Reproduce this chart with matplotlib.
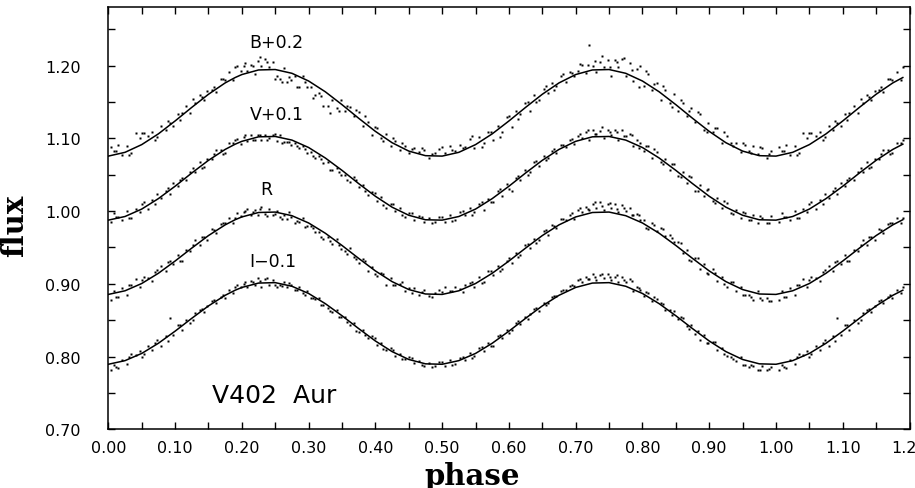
import matplotlib
matplotlib.use("Agg")
import matplotlib.pyplot as plt
import numpy as np
from matplotlib.ticker import MultipleLocator

# orbital phase of each observation (shared by all four filters), first run
phase_1 = [
    0.004, 0.009, 0.015, 0.021, 0.028, 0.034, 0.041, 0.047,
    0.053, 0.060, 0.066, 0.073, 0.079, 0.086, 0.092, 0.097,
    0.104, 0.110, 0.117, 0.123, 0.130, 0.137, 0.143, 0.148,
    0.155, 0.161, 0.168, 0.174, 0.181, 0.187, 0.193, 0.198,
    0.203, 0.208, 0.213, 0.219, 0.224, 0.229, 0.235, 0.240, 0.246,
    0.252, 0.257, 0.263, 0.268, 0.274, 0.280, 0.286, 0.292, 0.297,
    0.303, 0.309, 0.316, 0.322, 0.329, 0.335, 0.342, 0.348,
    0.355, 0.362, 0.368, 0.375, 0.382, 0.389, 0.395,
    0.402, 0.409, 0.416, 0.423, 0.430, 0.437, 0.444,
    0.451, 0.458, 0.466, 0.473, 0.481, 0.489, 0.496,
    0.504, 0.512, 0.519, 0.527, 0.534, 0.542, 0.548,
    0.555, 0.562, 0.569, 0.576, 0.583, 0.590, 0.597,
    0.604, 0.611, 0.617, 0.624, 0.631, 0.638, 0.645,
    0.652, 0.658, 0.665, 0.671, 0.678, 0.685, 0.692, 0.698,
    0.704, 0.709, 0.715, 0.720, 0.726, 0.731, 0.737, 0.742, 0.748,
    0.753, 0.759, 0.764, 0.770, 0.775, 0.781, 0.786, 0.792, 0.797,
    0.803, 0.809, 0.815, 0.822, 0.828, 0.834, 0.841, 0.847,
    0.853, 0.860, 0.866, 0.873, 0.879, 0.886, 0.892, 0.898,
    0.905, 0.912, 0.919, 0.926, 0.933, 0.940, 0.947,
    0.953, 0.960, 0.966, 0.973, 0.979, 0.986, 0.993,
]

# shifted fluxes: B+0.2, V+0.1, R, I-0.1
b_flux_1 = [
    1.088, 1.082, 1.091, 1.077, 1.090, 1.080, 1.107, 1.100,
    1.107, 1.103, 1.109, 1.102, 1.117, 1.111, 1.121, 1.117,
    1.134, 1.135, 1.144, 1.135, 1.148, 1.160, 1.152, 1.165,
    1.166, 1.163, 1.182, 1.180, 1.191, 1.180, 1.199, 1.193,
    1.199, 1.193, 1.201, 1.189, 1.206, 1.200, 1.209, 1.198, 1.205,
    1.186, 1.181, 1.197, 1.178, 1.180, 1.185, 1.171, 1.186, 1.170,
    1.171, 1.159, 1.162, 1.144, 1.144, 1.153, 1.142, 1.153,
    1.137, 1.143, 1.131, 1.136, 1.117, 1.122, 1.105,
    1.114, 1.100, 1.106, 1.089, 1.096, 1.084, 1.089,
    1.080, 1.087, 1.081, 1.084, 1.073, 1.080, 1.085,
    1.080, 1.089, 1.082, 1.091, 1.088, 1.099, 1.086,
    1.102, 1.093, 1.108, 1.097, 1.117, 1.109, 1.129,
    1.115, 1.137, 1.134, 1.148, 1.137, 1.160, 1.153,
    1.168, 1.162, 1.176, 1.172, 1.186, 1.178, 1.191, 1.185,
    1.193, 1.201, 1.190, 1.228, 1.200, 1.191, 1.205, 1.198, 1.208,
    1.186, 1.208, 1.198, 1.209, 1.185, 1.204, 1.179, 1.195, 1.200,
    1.172, 1.188, 1.167, 1.176, 1.152, 1.166, 1.149, 1.161,
    1.138, 1.149, 1.131, 1.142, 1.122, 1.133, 1.111, 1.121,
    1.109, 1.114, 1.094, 1.103, 1.094, 1.094, 1.081,
    1.091, 1.083, 1.090, 1.078, 1.086, 1.073, 1.083,
]
v_flux_1 = [
    0.985, 0.997, 0.992, 0.987, 1.000, 0.990, 1.003, 0.998,
    1.012, 1.003, 1.015, 1.023, 1.018, 1.028, 1.024, 1.038,
    1.034, 1.046, 1.043, 1.053, 1.053, 1.067, 1.060, 1.072,
    1.071, 1.084, 1.084, 1.080, 1.093, 1.093, 1.099, 1.092,
    1.102, 1.096, 1.104, 1.097, 1.105, 1.097, 1.105, 1.100, 1.104,
    1.096, 1.104, 1.095, 1.095, 1.091, 1.093, 1.086, 1.089, 1.080,
    1.081, 1.073, 1.075, 1.066, 1.067, 1.056, 1.059, 1.049,
    1.050, 1.040, 1.047, 1.033, 1.036, 1.022, 1.026,
    1.014, 1.019, 1.004, 1.009, 1.000, 1.004, 0.992,
    0.997, 0.988, 0.993, 0.985, 0.991, 0.985, 0.992,
    0.985, 0.995, 0.987, 0.999, 0.994, 1.004, 0.998,
    1.010, 1.001, 1.016, 1.013, 1.028, 1.021, 1.037,
    1.027, 1.045, 1.042, 1.056, 1.054, 1.068, 1.062,
    1.076, 1.073, 1.083, 1.080, 1.091, 1.088, 1.097, 1.092,
    1.103, 1.101, 1.108, 1.098, 1.112, 1.106, 1.110, 1.101, 1.112,
    1.104, 1.111, 1.097, 1.111, 1.103, 1.106, 1.090, 1.098, 1.093,
    1.083, 1.090, 1.073, 1.081, 1.067, 1.072, 1.057, 1.064,
    1.048, 1.054, 1.038, 1.047, 1.027, 1.036, 1.021, 1.030,
    1.014, 1.018, 1.004, 1.011, 0.997, 1.001, 0.990,
    0.997, 0.988, 0.995, 0.984, 0.991, 0.984, 0.993,
]
r_flux_1 = [
    0.878, 0.890, 0.882, 0.894, 0.884, 0.898, 0.906, 0.895,
    0.909, 0.908, 0.904, 0.919, 0.925, 0.918, 0.931, 0.927,
    0.940, 0.932, 0.947, 0.945, 0.960, 0.954, 0.965, 0.960,
    0.976, 0.970, 0.982, 0.983, 0.990, 0.984, 0.997, 0.993,
    0.999, 1.003, 0.994, 1.002, 0.994, 1.006, 0.996, 1.003, 0.994,
    1.000, 0.992, 0.995, 0.989, 0.992, 0.984, 0.985, 0.991, 0.979,
    0.979, 0.971, 0.971, 0.961, 0.965, 0.955, 0.961, 0.948,
    0.945, 0.949, 0.937, 0.929, 0.934, 0.918, 0.923,
    0.911, 0.915, 0.898, 0.908, 0.898, 0.900, 0.890,
    0.894, 0.894, 0.885, 0.891, 0.883, 0.888, 0.891,
    0.895, 0.890, 0.895, 0.893, 0.899, 0.901, 0.896,
    0.909, 0.902, 0.918, 0.912, 0.925, 0.920, 0.932,
    0.928, 0.943, 0.940, 0.953, 0.949, 0.962, 0.960,
    0.973, 0.967, 0.981, 0.977, 0.989, 0.988, 0.995, 0.989,
    1.001, 0.998, 1.006, 1.001, 1.010, 1.004, 1.013, 1.002, 1.009,
    1.004, 1.010, 0.999, 1.008, 1.000, 1.004, 0.994, 0.996, 0.988,
    0.988, 0.976, 0.983, 0.973, 0.977, 0.966, 0.967, 0.958,
    0.958, 0.943, 0.947, 0.932, 0.936, 0.921, 0.927, 0.913,
    0.920, 0.904, 0.909, 0.895, 0.903, 0.890, 0.895,
    0.884, 0.885, 0.878, 0.890, 0.878, 0.881, 0.876,
]
i_flux_1 = [
    0.782, 0.788, 0.784, 0.795, 0.790, 0.803, 0.802, 0.807,
    0.803, 0.815, 0.809, 0.823, 0.815, 0.828, 0.853, 0.829,
    0.843, 0.837, 0.850, 0.846, 0.860, 0.864, 0.861, 0.870,
    0.876, 0.873, 0.882, 0.880, 0.892, 0.887, 0.898, 0.895,
    0.900, 0.895, 0.904, 0.898, 0.908, 0.896, 0.907, 0.898, 0.905,
    0.895, 0.898, 0.903, 0.895, 0.899, 0.891, 0.896, 0.887, 0.890,
    0.881, 0.879, 0.880, 0.871, 0.867, 0.861, 0.864, 0.854,
    0.854, 0.844, 0.846, 0.834, 0.836, 0.825, 0.828,
    0.816, 0.818, 0.809, 0.812, 0.801, 0.803, 0.796,
    0.799, 0.791, 0.794, 0.787, 0.791, 0.787, 0.793,
    0.787, 0.795, 0.790, 0.798, 0.795, 0.805, 0.801,
    0.812, 0.808, 0.819, 0.815, 0.828, 0.825, 0.837,
    0.836, 0.846, 0.845, 0.855, 0.859, 0.866, 0.863,
    0.874, 0.873, 0.882, 0.883, 0.890, 0.891, 0.897, 0.897,
    0.905, 0.903, 0.909, 0.906, 0.913, 0.905, 0.912, 0.908, 0.914,
    0.905, 0.910, 0.903, 0.909, 0.902, 0.907, 0.890, 0.896, 0.892,
    0.883, 0.887, 0.877, 0.879, 0.873, 0.864, 0.864, 0.862,
    0.852, 0.853, 0.842, 0.843, 0.831, 0.823, 0.830, 0.819,
    0.820, 0.809, 0.812, 0.801, 0.800, 0.794, 0.800,
    0.789, 0.786, 0.787, 0.782, 0.787, 0.781, 0.785,
]

# second run
phase_2 = [
    0.012, 0.031, 0.050, 0.070, 0.089, 0.107, 0.127, 0.140, 0.158, 0.171, 0.190,
    0.205, 0.216, 0.227, 0.238, 0.249, 0.260, 0.271, 0.283, 0.295,
    0.306, 0.319, 0.332, 0.345, 0.358, 0.371, 0.385, 0.399, 0.412, 0.426,
    0.440, 0.455, 0.470, 0.485,
    0.500, 0.515, 0.531, 0.545, 0.559, 0.573, 0.587, 0.600, 0.614, 0.628,
    0.641, 0.655, 0.668, 0.681, 0.695,
    0.707, 0.718, 0.729, 0.740, 0.751, 0.762, 0.773, 0.784, 0.795,
    0.806, 0.818, 0.831, 0.844, 0.857, 0.870, 0.883, 0.896, 0.909, 0.922,
    0.936, 0.950, 0.963, 0.976, 0.990,
]
b_flux_2 = [
    1.083, 1.077, 1.107, 1.097, 1.124, 1.125, 1.154, 1.157, 1.171, 1.182, 1.198,
    1.203, 1.200, 1.212, 1.205, 1.182, 1.178, 1.184, 1.171, 1.177,
    1.156, 1.158, 1.135, 1.138, 1.144, 1.139, 1.130, 1.116, 1.096, 1.101,
    1.093, 1.085, 1.086, 1.078,
    1.088, 1.084, 1.086, 1.103, 1.088, 1.109, 1.102, 1.130, 1.126, 1.150,
    1.150, 1.172, 1.167, 1.189, 1.190,
    1.202, 1.201, 1.206, 1.213, 1.198, 1.205, 1.210, 1.194, 1.171,
    1.192, 1.174, 1.172, 1.143, 1.153, 1.137, 1.136, 1.109, 1.114, 1.108,
    1.090, 1.094, 1.080, 1.088, 1.078,
]
v_flux_2 = [
    0.992, 0.991, 1.009, 1.009, 1.032, 1.042, 1.059, 1.059, 1.079, 1.079, 1.097,
    1.104, 1.098, 1.105, 1.097, 1.106, 1.094, 1.095, 1.089, 1.085,
    1.076, 1.071, 1.056, 1.054, 1.042, 1.043, 1.027, 1.025, 1.008, 1.010,
    0.995, 0.997, 0.992, 0.984,
    0.992, 0.986, 1.000, 0.995, 1.012, 1.012, 1.030, 1.030, 1.048, 1.050,
    1.069, 1.070, 1.085, 1.091, 1.099,
    1.106, 1.111, 1.106, 1.115, 1.108, 1.109, 1.103, 1.104, 1.086,
    1.090, 1.085, 1.064, 1.065, 1.047, 1.048, 1.028, 1.029, 1.011, 1.014,
    0.996, 0.999, 0.987, 0.993, 0.983,
]
r_flux_2 = [
    0.882, 0.898, 0.905, 0.916, 0.930, 0.932, 0.954, 0.964, 0.974, 0.984, 0.991,
    1.000, 0.999, 1.003, 0.993, 0.996, 0.989, 0.998, 0.986, 0.978,
    0.977, 0.965, 0.959, 0.953, 0.941, 0.934, 0.931, 0.914, 0.913, 0.898,
    0.902, 0.887, 0.889, 0.882,
    0.889, 0.890, 0.889, 0.903, 0.901, 0.918, 0.917, 0.935, 0.937, 0.955,
    0.956, 0.974, 0.980, 0.989, 0.997,
    1.004, 1.003, 1.013, 1.007, 1.011, 1.003, 1.004, 0.995, 0.994,
    0.977, 0.981, 0.976, 0.963, 0.956, 0.933, 0.935, 0.915, 0.915, 0.900,
    0.902, 0.884, 0.882, 0.881, 0.877,
]
i_flux_2 = [
    0.785, 0.799, 0.800, 0.818, 0.822, 0.844, 0.850, 0.865, 0.878, 0.885, 0.895,
    0.902, 0.902, 0.904, 0.908, 0.898, 0.897, 0.901, 0.891, 0.884,
    0.881, 0.871, 0.862, 0.855, 0.847, 0.835, 0.830, 0.825, 0.811, 0.809,
    0.797, 0.798, 0.789, 0.785,
    0.792, 0.789, 0.799, 0.798, 0.813, 0.814, 0.830, 0.832, 0.849, 0.852,
    0.867, 0.871, 0.883, 0.891, 0.899,
    0.907, 0.907, 0.910, 0.914, 0.910, 0.912, 0.905, 0.904, 0.894,
    0.889, 0.882, 0.872, 0.857, 0.854, 0.838, 0.835, 0.819, 0.820, 0.804,
    0.797, 0.789, 0.788, 0.781, 0.783,
]

# model light curves
fit_phase = [
    0.000, 0.025, 0.050, 0.075, 0.100, 0.125, 0.150, 0.175, 0.190,
    0.200, 0.225, 0.250, 0.275, 0.300, 0.325, 0.350, 0.375,
    0.400, 0.425, 0.450, 0.475,
    0.500, 0.525, 0.550, 0.575, 0.600, 0.625, 0.650, 0.675,
    0.700, 0.725, 0.750, 0.775, 0.800, 0.825, 0.850, 0.875,
    0.900, 0.925, 0.950, 0.975,
]
b_fit = [
    1.0755, 1.0807, 1.0913, 1.1061, 1.1238, 1.1425, 1.1605, 1.1761, 1.1835,
    1.1876, 1.1939, 1.1945, 1.1893, 1.1787, 1.1639, 1.1462, 1.1275,
    1.1095, 1.0939, 1.0824, 1.0761,
    1.0755, 1.0807, 1.0913, 1.1061, 1.1238, 1.1425, 1.1605, 1.1761,
    1.1876, 1.1939, 1.1945, 1.1893, 1.1787, 1.1639, 1.1462, 1.1275,
    1.1095, 1.0939, 1.0824, 1.0761,
]
v_fit = [
    0.9875, 0.9925, 1.0027, 1.0171, 1.0341, 1.0523, 1.0697, 1.0847, 1.0919,
    1.0958, 1.1020, 1.1025, 1.0975, 1.0873, 1.0729, 1.0559, 1.0377,
    1.0203, 1.0053, 0.9942, 0.9880,
    0.9875, 0.9925, 1.0027, 1.0171, 1.0341, 1.0523, 1.0697, 1.0847,
    1.0958, 1.1020, 1.1025, 1.0975, 1.0873, 1.0729, 1.0559, 1.0377,
    1.0203, 1.0053, 0.9942, 0.9880,
]
r_fit = [
    0.8854, 0.8904, 0.9004, 0.9145, 0.9313, 0.9491, 0.9663, 0.9810, 0.9881,
    0.9919, 0.9980, 0.9986, 0.9936, 0.9836, 0.9695, 0.9527, 0.9349,
    0.9177, 0.9030, 0.8921, 0.8860,
    0.8854, 0.8904, 0.9004, 0.9145, 0.9313, 0.9491, 0.9663, 0.9810,
    0.9919, 0.9980, 0.9986, 0.9936, 0.9836, 0.9695, 0.9527, 0.9349,
    0.9177, 0.9030, 0.8921, 0.8860,
]
i_fit = [
    0.7894, 0.7944, 0.8043, 0.8183, 0.8349, 0.8526, 0.8696, 0.8842, 0.8912,
    0.8950, 0.9010, 0.9016, 0.8966, 0.8867, 0.8727, 0.8561, 0.8384,
    0.8214, 0.8068, 0.7960, 0.7900,
    0.7894, 0.7944, 0.8043, 0.8183, 0.8349, 0.8526, 0.8696, 0.8842,
    0.8950, 0.9010, 0.9016, 0.8966, 0.8867, 0.8727, 0.8561, 0.8384,
    0.8214, 0.8068, 0.7960, 0.7900,
]

band_labels = ["B+0.2", "V+0.1", "R", "I\u22120.1"]
label_x = [0.252, 0.252, 0.237, 0.246]
label_y = [1.233, 1.134, 1.030, 0.932]

WRAP = 0.19  # repeat the start of the cycle beyond phase 1


def wrapped(x, y):
    x = np.asarray(x)
    y = np.asarray(y)
    keep = x <= WRAP
    return np.concatenate([x, x[keep] + 1.0]), np.concatenate([y, y[keep]])


fig = plt.figure(figsize=(9.15, 4.89), dpi=100)
ax = fig.add_axes([0.1184, 0.1200, 0.8756, 0.8630])

runs = [
    (phase_1, [b_flux_1, v_flux_1, r_flux_1, i_flux_1]),
    (phase_2, [b_flux_2, v_flux_2, r_flux_2, i_flux_2]),
]
for ph, bands in runs:
    for obs in bands:
        px, py = wrapped(ph, obs)
        ax.plot(px, py, "s", ms=2.0, color="k", mec="none")

for fit in [b_fit, v_fit, r_fit, i_fit]:
    fx, fy = wrapped(fit_phase, fit)
    ax.plot(fx, fy, "-", color="k", lw=1.1)

for lab, lx, ly in zip(band_labels, label_x, label_y):
    ax.text(lx, ly, lab, ha="center", va="center", fontsize=12.5)

ax.text(0.248, 0.747, "V402  Aur", ha="center", va="center", fontsize=18)

ax.set_xlim(0, 1.2)
ax.set_ylim(0.70, 1.28)
ax.set_xticks(np.arange(0, 1.21, 0.1))
ax.set_xticklabels([f"{v:.2f}" for v in np.arange(0, 1.21, 0.1)])
ax.set_yticks(np.arange(0.7, 1.21, 0.1))
ax.set_yticklabels([f"{v:.2f}" for v in np.arange(0.7, 1.21, 0.1)])
ax.xaxis.set_minor_locator(MultipleLocator(0.05))
ax.yaxis.set_minor_locator(MultipleLocator(0.05))
ax.tick_params(which="both", direction="in", top=True, right=True,
               length=5, width=1.0, labelsize=11.5)
ax.tick_params(axis="y", which="both", pad=20)
ax.tick_params(axis="x", which="both", pad=8)
for sp in ax.spines.values():
    sp.set_linewidth(1.1)

fig.text(23 / 915, 1 - 226 / 489, "flux", rotation=90, rotation_mode="anchor",
         ha="center", va="baseline",
         fontsize=21, family="DejaVu Serif", weight="bold")
fig.text(472 / 915, 4 / 489, "phase", ha="center", va="baseline",
         fontsize=21, family="DejaVu Serif", weight="bold")

fig.savefig("out.png", dpi=100)
